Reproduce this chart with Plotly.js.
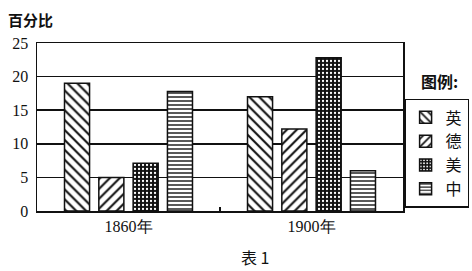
<!DOCTYPE html>
<html><head><meta charset="utf-8">
<script src="https://cdn.plot.ly/plotly-3.0.1.min.js"></script>
<style>html,body{margin:0;padding:0;background:#fff}#c{width:472px;height:271px}</style>
</head><body><div id="c"></div>
<script>
const years = ['1860年', '1900年'];
const countries = ['英', '德', '美', '中'];
const valsUK = [19, 17];
const valsDE = [5, 12.2];
const valsUS = [7.1, 22.8];
const valsCN = [17.8, 6];
const yTicks = [0, 5, 10, 15, 20, 25];

const series = [valsUK, valsDE, valsUS, valsCN];
const patterns = [
  {shape: '\\', fgcolor: '#111', bgcolor: '#fff', size: 7, solidity: 0.3},
  {shape: '/', fgcolor: '#111', bgcolor: '#fff', size: 7, solidity: 0.3},
  {shape: '.', fgcolor: '#fff', bgcolor: '#111', size: 4, solidity: 0.25},
  {shape: '-', fgcolor: '#111', bgcolor: '#fff', size: 4, solidity: 0.35}
];
const cjk = '"Noto Sans CJK SC", sans-serif';
const serif = '"Liberation Serif", "DejaVu Serif", serif';

const data = series.map((v, i) => ({
  type: 'bar', x: years, y: v, name: countries[i],
  marker: {color: '#fff', pattern: patterns[i], line: {color: '#111', width: 1.5}}
}));

const layout = {
  width: 472, height: 271,
  margin: {l: 37, r: 69, t: 43, b: 60, autoexpand: false},
  paper_bgcolor: '#fff', plot_bgcolor: '#fff',
  barmode: 'group', bargap: 0.25, bargroupgap: 0.27,
  showlegend: true,
  legend: {x: 1.003, y: 0.667, xanchor: 'left', yanchor: 'top',
    bordercolor: '#111', borderwidth: 1.5, bgcolor: '#fff',
    font: {family: cjk, size: 16, color: '#111'}, itemwidth: 30, tracegroupgap: 0},
  font: {family: serif, color: '#111'},
  xaxis: {type: 'category', showline: true, linecolor: '#111', linewidth: 1.5, mirror: true,
    ticks: 'inside', tickson: 'boundaries', ticklen: 4, tickcolor: '#111', tickwidth: 1.5,
    tickfont: {family: serif, size: 16, color: '#111'}, showgrid: false},
  yaxis: {range: [0, 25], tickvals: yTicks, showline: true, linecolor: '#111', linewidth: 1.5, mirror: true,
    gridcolor: '#111', gridwidth: 1.5, ticks: '', zeroline: false,
    tickfont: {family: serif, size: 16, color: '#111'}, ticklabelstandoff: 4},
  annotations: [
    {text: '<b>百分比</b>', xref: 'paper', yref: 'paper', x: -0.085, y: 1.14, xanchor: 'left', yanchor: 'middle',
      showarrow: false, font: {family: cjk, size: 15, color: '#111'}},
    {text: '<b>图例:</b>', xref: 'paper', yref: 'paper', x: 1.101, y: 0.774, xanchor: 'center', yanchor: 'middle',
      showarrow: false, font: {family: cjk, size: 16, color: '#111'}},
    {text: '表 1', xref: 'paper', yref: 'paper', x: 0.596, y: -0.274, xanchor: 'center', yanchor: 'middle',
      showarrow: false, font: {family: cjk, size: 16, color: '#111'}}
  ]
};
Plotly.newPlot('c', data, layout, {displayModeBar: false, staticPlot: true});
</script></body></html>
